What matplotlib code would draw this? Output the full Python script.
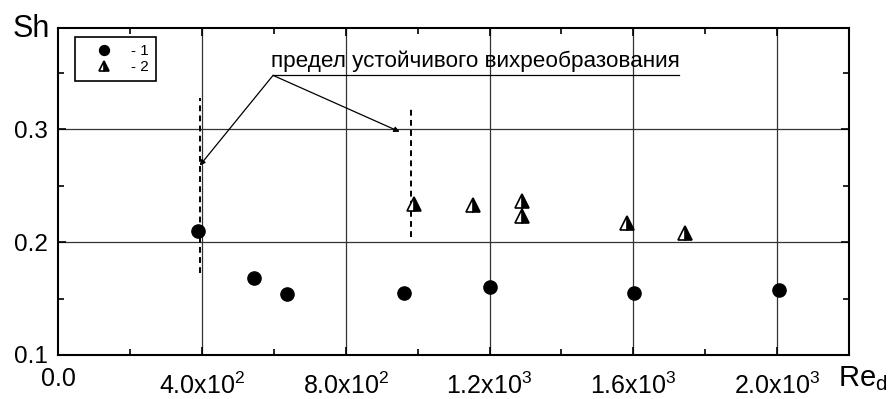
import matplotlib.pyplot as plt
import matplotlib.transforms as mtransforms
import numpy as np

plt.rcParams['font.family'] = ['Liberation Sans', 'DejaVu Sans']
plt.rcParams['mathtext.fontset'] = 'custom'
plt.rcParams['mathtext.rm'] = 'Liberation Sans'

# серия 1 (кружки)
re1 = [390, 546, 636, 962, 1201, 1603, 2004]
sh1 = [0.210, 0.168, 0.154, 0.155, 0.160, 0.155, 0.158]

# серия 2 (треугольники)
re2 = [991, 1155, 1291, 1291, 1582, 1744]
sh2 = [0.234, 0.233, 0.237, 0.223, 0.217, 0.208]

# границы устойчивого вихреобразования (пунктир)
lim_re = [395, 981]
lim_lo = [0.173, 0.205]
lim_hi = [0.328, 0.318]

xticks = [0, 400, 800, 1200, 1600, 2000]
xlabels = ['0.0', r'$\mathregular{4.0x10^2}$', r'$\mathregular{8.0x10^2}$',
           r'$\mathregular{1.2x10^3}$', r'$\mathregular{1.6x10^3}$',
           r'$\mathregular{2.0x10^3}$']
yticks = [0.1, 0.2, 0.3]
ylabels = ['0.1', '0.2', '0.3']

fig = plt.figure(figsize=(8.9, 3.99), dpi=100)
ax = fig.add_axes([0.0652, 0.1103, 0.8888, 0.8195])

ax.set_xlim(0, 2200)
ax.set_ylim(0.1, 0.39)

for x in xticks[1:]:
    ax.axvline(x, color='#333333', lw=0.9, zorder=1)
for y in yticks[1:]:
    ax.axhline(y, color='#333333', lw=0.9, zorder=1)

for x, lo, hi in zip(lim_re, lim_lo, lim_hi):
    ax.plot([x, x], [lo, hi], color='black', lw=1.4, ls=(0, (3, 2.2)), zorder=2)

c1, = ax.plot(re1, sh1, 'o', color='black', ms=9.5, ls='none', zorder=3)
c2, = ax.plot(re2, sh2, '^', ms=10.5, ls='none', fillstyle='right',
              markerfacecolor='black', markerfacecoloralt='white',
              markeredgecolor='black', markeredgewidth=1.2, zorder=3)

# подпись со стрелками
ax.text(592, 0.355, 'предел устойчивого вихреобразования', fontsize=16.2,
        ha='left', va='baseline')
ax.plot([598, 1727], [0.348, 0.348], color='black', lw=0.9)
for tx, ty in [(394, 0.268), (950, 0.298)]:
    ax.annotate('', xy=(tx, ty), xytext=(598, 0.348),
                arrowprops=dict(arrowstyle='-|>', color='black', lw=0.9,
                                mutation_scale=8, shrinkA=0, shrinkB=0))

ax.set_xticks(xticks)
ax.set_xticklabels(xlabels)
ax.set_yticks(yticks)
ax.set_yticklabels(ylabels)
ax.set_xticks(np.arange(200, 2200, 400), minor=True)
ax.set_yticks([0.15, 0.25, 0.35], minor=True)
ax.tick_params(which='both', direction='in', top=True, right=True,
               labelsize=17.5, width=1.2)
ax.tick_params(which='major', length=6, pad=7)
ax.tick_params(axis='x', which='major', pad=9, labelsize=18)
ax.tick_params(which='minor', length=4)
for s in ax.spines.values():
    s.set_linewidth(1.5)

# метки со степенью чуть ниже
shift = mtransforms.ScaledTranslation(0, -5 / 100, fig.dpi_scale_trans)
for lbl in ax.get_xticklabels()[1:]:
    lbl.set_transform(lbl.get_transform() + shift)

fig.text(13 / 890, 1 - 37 / 399, 'Sh', fontsize=22, ha='left', va='baseline')
fig.text(838 / 890, 1 - 386 / 399, r'$\mathregular{Re_d}$', fontsize=21,
         ha='left', va='baseline')

leg = ax.legend([c1, c2], ['- 1', '- 2'], loc='upper left',
                bbox_to_anchor=(0.022, 0.972), borderaxespad=0,
                fontsize=11, markerscale=0.75, fancybox=False,
                framealpha=1, edgecolor='black', handlelength=2.9,
                handletextpad=0.3, borderpad=0.45, labelspacing=0.15)
leg.get_frame().set_linewidth(1.2)

fig.savefig('out.png', dpi=100)
